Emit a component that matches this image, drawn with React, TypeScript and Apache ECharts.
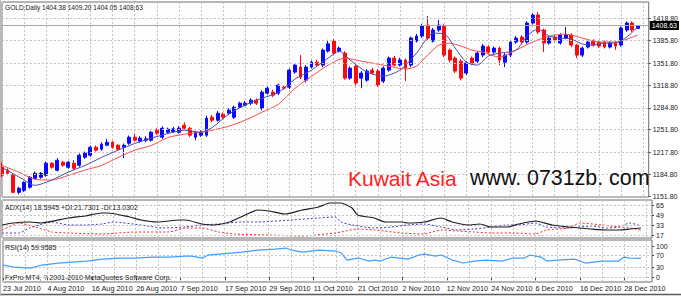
import React, { useEffect, useRef } from 'react';
import * as echarts from 'echarts';

const dates = [
  '23 Jul 2010','26 Jul 2010','27 Jul 2010','28 Jul 2010','29 Jul 2010','30 Jul 2010',
  '2 Aug 2010','3 Aug 2010','4 Aug 2010','5 Aug 2010','6 Aug 2010','9 Aug 2010','10 Aug 2010','11 Aug 2010','12 Aug 2010','13 Aug 2010','16 Aug 2010','17 Aug 2010','18 Aug 2010','19 Aug 2010','20 Aug 2010','23 Aug 2010','24 Aug 2010','25 Aug 2010','26 Aug 2010','27 Aug 2010','30 Aug 2010','31 Aug 2010',
  '1 Sep 2010','2 Sep 2010','3 Sep 2010','6 Sep 2010','7 Sep 2010','8 Sep 2010','9 Sep 2010','10 Sep 2010','13 Sep 2010','14 Sep 2010','15 Sep 2010','16 Sep 2010','17 Sep 2010','20 Sep 2010','21 Sep 2010','22 Sep 2010','23 Sep 2010','24 Sep 2010','27 Sep 2010','28 Sep 2010','29 Sep 2010','30 Sep 2010',
  '1 Oct 2010','4 Oct 2010','5 Oct 2010','6 Oct 2010','7 Oct 2010','8 Oct 2010','11 Oct 2010','12 Oct 2010','13 Oct 2010','14 Oct 2010','15 Oct 2010','18 Oct 2010','19 Oct 2010','20 Oct 2010','21 Oct 2010','22 Oct 2010','25 Oct 2010','26 Oct 2010','27 Oct 2010','28 Oct 2010','29 Oct 2010',
  '1 Nov 2010','2 Nov 2010','3 Nov 2010','4 Nov 2010','5 Nov 2010','8 Nov 2010','9 Nov 2010','10 Nov 2010','11 Nov 2010','12 Nov 2010','15 Nov 2010','16 Nov 2010','17 Nov 2010','18 Nov 2010','19 Nov 2010','22 Nov 2010','23 Nov 2010','24 Nov 2010','25 Nov 2010','26 Nov 2010','29 Nov 2010','30 Nov 2010',
  '1 Dec 2010','2 Dec 2010','3 Dec 2010','6 Dec 2010','7 Dec 2010','8 Dec 2010','9 Dec 2010','10 Dec 2010','13 Dec 2010','14 Dec 2010','15 Dec 2010','16 Dec 2010','17 Dec 2010','20 Dec 2010','21 Dec 2010','22 Dec 2010','23 Dec 2010','24 Dec 2010','27 Dec 2010','28 Dec 2010','29 Dec 2010','30 Dec 2010','31 Dec 2010',
];

const opens = [
  1195.2,1190.7,1183.2,1157.5,1160.5,1165.1,1178.6,1180.2,1183.2,1201.3,
  1190.7,1202.8,1195.2,1201.3,1198.3,1210.3,1213.3,1225.4,1222.4,1228.4,
  1232.9,1228.4,1225.4,1231.4,1240.5,1234.4,1236.0,1236.0,1251.0,1240.5,
  1248.0,1249.0,1248.0,1258.5,1254.0,1240.5,1243.5,1243.5,1270.6,1266.1,
  1275.1,1276.6,1270.6,1285.7,1288.7,1291.7,1296.3,1284.2,1306.8,1308.3,
  1306.8,1315.8,1315.8,1338.5,1346.0,1326.4,1346.0,1353.5,1349.0,1370.1,
  1385.2,1370.1,1367.1,1329.4,1347.5,1329.4,1326.4,1341.5,1340.0,1324.9,
  1341.5,1359.6,1349.0,1356.6,1349.0,1385.2,1392.7,1409.3,1385.2,1401.8,
  1407.8,1371.6,1359.6,1355.0,1337.0,1359.6,1355.0,1364.1,1376.2,1368.6,
  1374.6,1353.5,1364.1,1383.7,1391.2,1383.7,1412.3,1424.4,1401.8,1382.2,
  1391.2,1382.2,1389.7,1394.2,1379.2,1364.1,1376.2,1385.2,1383.7,1383.7,
  1376.2,1382.2,1379.2,1401.8,1412.3,1404.38,
];
const highs = [
  1202.8,1193.7,1186.2,1166.0,1174.0,1182.0,1189.0,1188.0,1204.0,1203.0,
  1209.0,1205.0,1205.0,1206.0,1216.0,1219.0,1228.0,1228.0,1233.0,1238.0,
  1235.0,1230.0,1231.0,1243.0,1246.0,1242.0,1242.0,1250.0,1254.0,1257.0,
  1255.0,1256.0,1257.0,1263.0,1256.0,1250.0,1251.0,1273.0,1274.0,1280.0,
  1278.0,1284.0,1288.0,1294.0,1295.0,1299.0,1299.0,1311.0,1317.0,1312.0,
  1321.0,1318.0,1344.0,1352.0,1364.1,1349.0,1356.0,1357.0,1374.0,1387.0,
  1388.0,1377.0,1370.0,1347.0,1350.0,1340.0,1343.0,1345.0,1343.0,1347.0,
  1362.0,1363.0,1360.0,1359.0,1392.0,1396.0,1411.0,1422.9,1405.0,1416.9,
  1411.0,1374.0,1362.0,1358.0,1355.0,1362.0,1370.0,1381.0,1379.0,1377.0,
  1377.0,1367.0,1386.0,1393.0,1394.0,1415.0,1427.0,1428.9,1404.0,1392.0,
  1394.0,1397.0,1406.3,1397.0,1381.0,1377.0,1386.0,1388.0,1386.0,1386.0,
  1385.0,1385.0,1407.0,1415.0,1415.0,1409.20,
];
const lows = [
  1180.2,1183.2,1156.0,1154.5,1158.0,1163.0,1177.0,1178.0,1181.0,1193.0,
  1189.0,1196.0,1193.0,1191.0,1196.0,1208.0,1211.0,1219.0,1220.0,1227.0,
  1223.0,1220.0,1208.8,1229.0,1234.0,1232.0,1233.0,1234.0,1244.0,1238.0,
  1246.0,1247.0,1246.0,1252.0,1241.0,1236.0,1241.0,1241.0,1263.0,1264.0,
  1268.0,1274.0,1268.0,1283.0,1287.0,1289.0,1289.0,1281.0,1305.0,1301.0,
  1304.0,1312.0,1313.0,1336.0,1328.0,1323.0,1344.0,1347.0,1346.0,1368.0,
  1365.0,1368.0,1327.0,1327.0,1317.0,1314.3,1324.0,1335.0,1316.0,1322.0,
  1339.0,1347.0,1347.0,1324.9,1346.0,1383.0,1390.0,1387.0,1383.0,1399.0,
  1361.0,1353.0,1337.0,1326.0,1334.0,1349.0,1352.0,1361.0,1366.0,1366.0,
  1349.0,1346.0,1361.0,1381.0,1381.0,1381.0,1410.0,1396.0,1368.6,1380.0,
  1384.0,1380.0,1388.0,1376.0,1359.6,1361.0,1374.0,1377.0,1375.0,1374.0,
  1374.0,1372.0,1377.0,1399.0,1399.0,1404.05,
];
const closes = [
  1183.2,1186.2,1157.5,1163.6,1172.6,1180.2,1186.2,1186.2,1201.3,1195.2,
  1205.8,1198.3,1202.8,1193.7,1213.3,1216.3,1225.4,1220.9,1229.9,1232.9,
  1225.4,1222.4,1228.4,1240.5,1236.0,1239.0,1238.0,1248.0,1246.5,1254.0,
  1252.5,1253.0,1254.0,1254.0,1243.5,1248.0,1248.0,1269.1,1266.1,1276.6,
  1270.6,1281.2,1285.7,1291.7,1291.7,1296.3,1291.7,1308.3,1314.3,1303.8,
  1318.9,1314.3,1341.5,1349.0,1330.9,1346.0,1353.5,1349.0,1371.6,1381.0,
  1367.1,1374.6,1329.4,1344.5,1321.9,1337.0,1340.0,1337.0,1318.9,1344.5,
  1359.6,1349.0,1356.6,1344.5,1389.7,1392.7,1407.8,1389.7,1401.8,1409.3,
  1364.1,1356.6,1340.0,1329.4,1352.0,1352.0,1367.1,1377.7,1368.6,1374.6,
  1356.6,1364.1,1383.7,1389.7,1383.7,1412.3,1424.4,1398.8,1382.2,1389.7,
  1386.7,1394.2,1394.2,1379.2,1364.1,1374.6,1383.7,1379.2,1377.7,1376.2,
  1382.2,1377.7,1404.8,1412.3,1401.8,1408.63,
];

// [bar index, value]
const fastMA = [[0,1195],[3,1181],[6,1168],[9,1176],[12,1188],[15,1198],[18,1210],[21,1221],[24,1231],[27,1239],[30,1246],[33,1251],[36,1248],[38,1255],[41,1275],[44,1289],[47,1299],[50,1308],[53,1328],[56,1341.5],[59,1359.6],[61,1370],[63,1356.6],[66,1338.5],[69,1332.4],[72,1341.5],[75,1367],[78,1397],[80,1396],[82,1374.6],[84,1353.5],[86,1349],[88,1362.6],[90,1367],[93,1371.6],[95,1392.7],[97,1403.3],[99,1392.7],[101,1389.7],[103,1388.2],[105,1380.7],[107,1379.2],[109,1382.2],[111,1382.2],[113,1391.2],[115,1406.3]];
const slowMA = [[0,1198],[3,1188],[6,1177],[9,1176],[12,1183],[15,1191],[18,1198],[21,1210],[24,1221],[27,1228],[30,1240],[33,1245],[36,1248],[38,1251],[41,1257],[44,1266],[47,1278],[50,1290],[53,1314],[56,1332],[59,1349],[62,1359.6],[64,1356.6],[67,1352],[70,1347.5],[73,1343],[75,1347.5],[77,1364],[79,1379],[81,1382],[83,1377.7],[85,1371.6],[87,1368.6],[90,1361],[93,1371.6],[96,1383.7],[99,1392.7],[102,1395.7],[105,1389.7],[108,1383.7],[111,1383.7],[115,1394.2]];

const adx = [[0,33],[2,36.2],[5,37.8],[7,36.2],[12,44.2],[15,47.4],[18,52.2],[19,52.2],[23,45.8],[25,41],[28,37.8],[32,41],[33,41],[36,34.6],[38,33],[41,37.8],[43,45.8],[46,57],[48,55.4],[51,50.6],[54,57],[57,61.8],[59,68.2],[61,68.2],[63,60.2],[64,49],[67,44.2],[69,37.8],[72,37.8],[73,36.2],[76,37.8],[79,44.2],[81,37.8],[84,33],[86,34.6],[88,29.8],[91,29.8],[93,34.6],[96,39.4],[97,37.8],[99,33],[102,29.8],[104,28.2],[106,26.6],[109,25],[111,25],[113,26.6],[115,28.2]];
const plusDI = [[0,20.2],[3,20.2],[5,28.2],[9,37.8],[12,33],[15,33],[18,34.6],[20,37.8],[25,33],[29,28.2],[33,29.8],[36,33],[39,34.6],[43,37.8],[46,37.8],[52,41],[57,44.2],[60,45.8],[61,37.8],[63,33],[67,28.2],[70,29.8],[73,33],[76,34.6],[79,29.8],[82,25],[85,26.6],[88,29.8],[91,33],[93,33],[96,36.2],[98,29.8],[102,28.2],[104,29.8],[106,31.4],[109,28.2],[111,29.8],[113,36.2],[115,31.4]];
const minusDI = [[0,25],[2,33],[3,36.2],[6,29.8],[9,21.8],[12,20.2],[18,18.6],[24,21.8],[30,21.8],[33,28.2],[36,28.2],[39,21.8],[42,18.6],[48,17],[54,15.4],[60,20.2],[61,21.8],[64,26.6],[67,25],[72,20.2],[76,18.6],[79,25],[82,23.4],[85,21.8],[88,20.2],[92,20.2],[96,18.6],[98,25],[102,28.2],[104,36.2],[108,33],[111,29.8],[113,28.2],[115,25]];
const rsi = [[0,38.7],[2,32.3],[5,29],[7,38.7],[10,45.2],[15,51.6],[18,58],[21,61.3],[24,61.3],[27,64.5],[30,64.5],[33,67.7],[34,67.7],[36,61.3],[37,71],[41,77.4],[43,80.6],[46,87.1],[49,90.3],[51,93.5],[52,87.1],[54,80.6],[57,87.1],[60,83.9],[61,77.4],[62,54.8],[64,61.3],[66,51.6],[67,54.8],[68,51.6],[70,64.5],[73,58],[75,71],[76,74.2],[78,67.7],[79,71],[81,54.8],[83,45.2],[85,51.6],[87,54.8],[90,51.6],[92,61.3],[94,61.3],[95,71],[97,64.5],[98,51.6],[100,54.8],[103,58],[105,45.2],[108,51.6],[111,51.6],[112,64.5],[113,61.3],[115,60]];

const priceTicks = [1151.8, 1184.8, 1217.8, 1251.8, 1284.8, 1318.8, 1351.8, 1385.8, 1418.8];
const adxTicks = [17, 33, 49, 65];
const rsiTicks = [0, 30, 70, 100];
const lastPrice = 1408.63;

const FONT = '"Liberation Sans", Arial, sans-serif';
const GRID_COLOR = '#c4c4c4';
const TEXT = '#1a1a1a';

export default function App() {
  const ref = useRef<HTMLDivElement>(null);
  useEffect(() => {
    if (!ref.current) return;
    const chart = echarts.init(ref.current, undefined, { renderer: 'svg' });
    const cats = [...dates, '', ''];
    const dash = { color: GRID_COLOR, type: [2, 2] as any, width: 1 };
    const hGrid = (vals: number[]) => ({
      silent: true,
      symbol: 'none',
      label: { show: false },
      lineStyle: dash,
      data: vals.map((v) => ({ yAxis: v })),
    });
    const xAxes = [0, 1, 2].map((g) => ({
      type: 'category',
      gridIndex: g,
      data: cats,
      boundaryGap: false,
      axisLine: { show: false },
      axisTick: { show: g === 2, interval: 7, length: 3, lineStyle: { color: '#444' } },
      axisLabel: {
        show: g === 2, interval: 7, align: 'left', fontSize: 7.3, color: TEXT,
        margin: 3, fontFamily: FONT,
      },
      splitLine: { show: true, interval: 3, lineStyle: dash },
    }));
    const yBase = (g: number, min: number, max: number, ticks: number[], fmt: (v: number) => string) => ({
      type: 'value',
      gridIndex: g,
      position: 'right',
      min, max,
      splitLine: { show: false },
      axisLine: { show: false },
      axisTick: { show: true, customValues: ticks, length: 2, lineStyle: { color: '#444' } },
      axisLabel: { customValues: ticks, formatter: fmt, fontSize: 7, color: TEXT, margin: 4, fontFamily: FONT },
    });
    const gridBase = { left: 2, right: 29, show: true, borderColor: '#6e6e6e', borderWidth: 1, backgroundColor: '#fdfdfd' };
    const option: any = {
      animation: false,
      backgroundColor: '#ffffff',
      grid: [
        { ...gridBase, top: 2, height: 195 },
        { ...gridBase, top: 200, height: 38 },
        { ...gridBase, top: 240, height: 42 },
      ],
      xAxis: xAxes,
      yAxis: [
        yBase(0, 1150.5, 1444, priceTicks, (v) => v.toFixed(2)),
        yBase(1, 12.2, 73, adxTicks, (v) => String(v)),
        yBase(2, -16, 119.5, rsiTicks, (v) => String(v)),
      ],
      series: [
        { type: 'line', xAxisIndex: 0, yAxisIndex: 0, data: [], markLine: hGrid(priceTicks), z: 1 },
        { type: 'line', xAxisIndex: 1, yAxisIndex: 1, data: [], markLine: hGrid(adxTicks), z: 1 },
        { type: 'line', xAxisIndex: 2, yAxisIndex: 2, data: [], markLine: hGrid(rsiTicks), z: 1 },
        {
          type: 'candlestick', xAxisIndex: 0, yAxisIndex: 0, z: 3,
          data: opens.map((o, i) => [o, closes[i], lows[i], highs[i]]),
          barWidth: 3.4,
          itemStyle: { color: '#0a0aff', color0: '#ff0a0a', borderColor: '#0a0aff', borderColor0: '#ff0a0a', borderWidth: 1 },
          markLine: {
            silent: true, symbol: 'none',
            data: [{ yAxis: lastPrice }],
            lineStyle: { color: '#a8a8a8', type: 'solid', width: 1 },
            label: {
              show: true, position: 'end', formatter: lastPrice.toFixed(2),
              backgroundColor: '#000', color: '#fff', fontSize: 7, fontFamily: FONT,
              padding: [1, 2, 1, 2], distance: 1,
            },
          },
        },
        { type: 'line', xAxisIndex: 0, yAxisIndex: 0, data: slowMA, showSymbol: false, z: 4, smooth: 0.25,
          lineStyle: { color: '#ff4a4a', width: 1 } },
        { type: 'line', xAxisIndex: 0, yAxisIndex: 0, data: fastMA, showSymbol: false, z: 5, smooth: 0.25,
          lineStyle: { color: '#4b4ba6', width: 1 } },
        { type: 'line', xAxisIndex: 1, yAxisIndex: 1, data: plusDI, showSymbol: false, z: 4, smooth: 0.2,
          lineStyle: { color: '#3c3ccc', width: 1, type: [2, 2] } },
        { type: 'line', xAxisIndex: 1, yAxisIndex: 1, data: minusDI, showSymbol: false, z: 4, smooth: 0.2,
          lineStyle: { color: '#ff2a2a', width: 1, type: [2, 2] } },
        { type: 'line', xAxisIndex: 1, yAxisIndex: 1, data: adx, showSymbol: false, z: 5, smooth: 0.2,
          lineStyle: { color: '#1e1e1e', width: 1.2 } },
        { type: 'line', xAxisIndex: 2, yAxisIndex: 2, data: rsi, showSymbol: false, z: 5,
          lineStyle: { color: '#3fa0ff', width: 1.2 } },
      ],
      graphic: [
        { type: 'text', x: 5, y: 7, z: 20, style: { text: 'GOLD.Daily 1404.38 1409.20 1404.05 1408.63', fontSize: 6.6, fontFamily: FONT, fill: TEXT, verticalAlign: 'middle' } },
        { type: 'text', x: 5, y: 207, z: 20, style: { text: 'ADX(14) 18.5945 +DI:21.7301 -DI:13.0302', fontSize: 7, fontFamily: FONT, fill: TEXT, verticalAlign: 'middle' } },
        { type: 'text', x: 5, y: 247, z: 20, style: { text: 'RSI(14) 59.9585', fontSize: 7, fontFamily: FONT, fill: TEXT, verticalAlign: 'middle' } },
        { type: 'text', x: 5, y: 277.5, z: 20, style: { text: 'FxPro MT4, ? 2001-2010 MetaQuotes Software Corp.', fontSize: 7, fontFamily: FONT, fill: TEXT, verticalAlign: 'middle' } },
        { type: 'text', x: 348, y: 178, z: 20, style: { text: 'Kuwait Asia', fontSize: 21, fontFamily: FONT, fill: '#ff2222', verticalAlign: 'middle' } },
        { type: 'text', x: 470, y: 178, z: 20, style: { text: 'www. 0731zb. com', fontSize: 21.4, fontFamily: FONT, fill: '#111', verticalAlign: 'middle' } },
        { type: 'line', z: 20, shape: { x1: 0, y1: 294.5, x2: 681, y2: 294.5 }, style: { stroke: '#5a5a5a', lineWidth: 1.5 } },
        { type: 'line', z: 20, shape: { x1: 0.5, y1: 0, x2: 0.5, y2: 296 }, style: { stroke: '#b8b8b8', lineWidth: 1 } },
      ],
    };
    chart.setOption(option);
    return () => chart.dispose();
  }, []);
  return (
    <div style={{ position: 'absolute', left: 0, top: 0, width: 681, height: 296, background: '#fff' }}>
      <div ref={ref} style={{ width: 681, height: 296 }} />
    </div>
  );
}
